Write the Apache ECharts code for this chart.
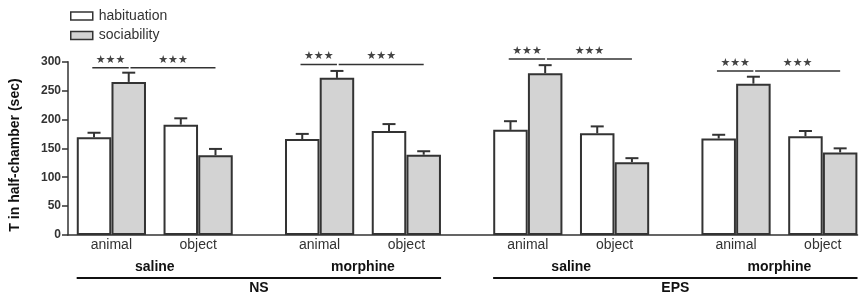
<!DOCTYPE html>
<html>
<head>
<meta charset="utf-8">
<script src="https://cdn.jsdelivr.net/npm/echarts@6/dist/echarts.min.js"></script>
<style>
  html, body { margin: 0; padding: 0; background: #fff; }
  #chart { width: 860px; height: 300px; }
</style>
</head>
<body>
<div id="chart"></div>
<script>
// values
var subjects = ['animal', 'object'];
var treatments = ['saline', 'morphine', 'saline', 'morphine'];
var conditions = ['NS', 'EPS'];
var habituation = [169, 191, 166, 180, 182, 176, 167, 171];
var habituationErr = [8, 11, 9, 12, 15, 12, 6.5, 9];
var sociability = [265, 138, 272, 139, 280, 126, 262, 143];
var sociabilityErr = [16, 11, 12, 6, 14, 7, 12, 7];
var sigLevels = [289.5, 295, 304.5, 284];
var sigMark = '★★★';
var yTitle = 'T in half-chamber (sec)';

var INK = '#333';
var FONT = 'Liberation Sans';

// position of each animal/object pair on the x scale
function xPos(i) {
    return 2.5 + Math.floor(i / 2) * 12 + (i % 2) * 5;
}

var centers = [];
for (var i = 0; i < habituation.length; i++) centers.push(xPos(i));
var groupCenters = [];
for (var g = 0; g < treatments.length; g++) groupCenters.push((xPos(2 * g) + xPos(2 * g + 1)) / 2);
var condCenters = [];
for (var c = 0; c < conditions.length; c++) condCenters.push((xPos(4 * c) - 2 + xPos(4 * c + 3) + 2) / 2);

function labelAt(list, vals) {
    return function(v) {
        for (var k = 0; k < vals.length; k++) {
            if (Math.abs(vals[k] - v) < 0.01) return list[k];
        }
        return '';
    };
}

var habData = [], socData = [], errData = [];
for (var i = 0; i < habituation.length; i++) {
    habData.push([centers[i] - 1, habituation[i]]);
    socData.push([centers[i] + 1, sociability[i]]);
    errData.push([centers[i] - 1, habituation[i], habituationErr[i]]);
    errData.push([centers[i] + 1, sociability[i], sociabilityErr[i]]);
}

var sigData = sigLevels.map(function(v, g) { return [g, v]; });
var condData = conditions.map(function(v, c) { return [c]; });

var chart = echarts.init(document.getElementById('chart'));

var hiddenAxis = {
    type: 'value', min: 0, max: 45.5, gridIndex: 0, position: 'bottom',
    splitLine: { show: false }, axisLine: { show: false }, axisTick: { show: false }
};

chart.setOption({
    animation: false,
    textStyle: { fontFamily: FONT },
    grid: { left: 68, right: 2.5, top: 61.7, bottom: 65 },
    legend: {
        data: ['habituation', 'sociability'],
        orient: 'vertical',
        left: 70, top: 9, padding: 0,
        icon: 'rect',
        itemWidth: 22, itemHeight: 8, itemGap: 5.5,
        itemStyle: { borderColor: INK, borderWidth: 1.5 },
        textStyle: { fontSize: 14, color: INK, fontFamily: FONT, padding: [0, 0, 0, 1] }
    },
    graphic: [{
        type: 'text', x: 15, y: 155, rotation: Math.PI / 2,
        style: {
            text: yTitle, fill: '#111', font: 'bold 14px ' + FONT,
            textAlign: 'center', textVerticalAlign: 'middle'
        }
    }],
    xAxis: [
        Object.assign({}, hiddenAxis, {
            axisLine: { show: true, onZero: false, lineStyle: { color: INK, width: 1.5 } },
            axisLabel: {
                customValues: centers, formatter: labelAt(subjects.concat(subjects, subjects, subjects), centers),
                fontSize: 14, color: INK, margin: 3, fontFamily: FONT
            }
        }),
        Object.assign({}, hiddenAxis, {
            offset: 22,
            axisLabel: {
                customValues: groupCenters, formatter: labelAt(treatments, groupCenters),
                fontSize: 14, fontWeight: 'bold', color: '#111', margin: 3, fontFamily: FONT
            }
        }),
        Object.assign({}, hiddenAxis, {
            offset: 43,
            axisLabel: {
                customValues: condCenters, formatter: labelAt(conditions, condCenters),
                fontSize: 14, fontWeight: 'bold', color: '#111', margin: 3, fontFamily: FONT
            }
        })
    ],
    yAxis: {
        type: 'value', min: 0, max: 300, interval: 50,
        splitLine: { show: false },
        axisLine: { show: true, lineStyle: { color: INK, width: 1.5 } },
        axisTick: { show: true, length: 6, lineStyle: { color: INK, width: 1.5 } },
        axisLabel: { fontSize: 12, fontWeight: 'bold', color: INK, margin: 7, fontFamily: FONT }
    },
    series: [
        {
            name: 'habituation', type: 'bar', data: habData,
            barWidth: 34.5, barGap: '-100%',
            itemStyle: { color: '#ffffff', borderColor: INK, borderWidth: 2 }
        },
        {
            name: 'sociability', type: 'bar', data: socData,
            barWidth: 34.5, barGap: '-100%',
            itemStyle: { color: '#d3d3d3', borderColor: INK, borderWidth: 2 }
        },
        {
            name: 'sem', type: 'custom', data: errData, z: 1,
            renderItem: function(params, api) {
                var x = api.value(0), y = api.value(1), e = api.value(2);
                var b = api.coord([x, y]);
                var t = api.coord([x, y + e]);
                var st = { stroke: INK, lineWidth: 2 };
                return {
                    type: 'group',
                    children: [
                        { type: 'line', shape: { x1: b[0], y1: b[1], x2: t[0], y2: t[1] }, style: st },
                        { type: 'line', shape: { x1: t[0] - 6.5, y1: t[1], x2: t[0] + 6.5, y2: t[1] }, style: st }
                    ]
                };
            }
        },
        {
            name: 'significance', type: 'custom', data: sigData, clip: false,
            renderItem: function(params, api) {
                var g = api.value(0), lv = api.value(1);
                var a = xPos(2 * g), o = xPos(2 * g + 1);
                var p1 = api.coord([a - 1.1, lv]);
                var p2 = api.coord([a + 1, lv]);
                var p3 = api.coord([a + 1.1, lv]);
                var p4 = api.coord([o + 1, lv]);
                var st = { stroke: INK, lineWidth: 1.5 };
                var ts = { fill: '#444', font: '11px DejaVu Sans', textAlign: 'center', textVerticalAlign: 'middle' };
                return {
                    type: 'group',
                    children: [
                        { type: 'line', shape: { x1: p1[0], y1: p1[1], x2: p2[0], y2: p2[1] }, style: st },
                        { type: 'line', shape: { x1: p3[0], y1: p3[1], x2: p4[0], y2: p4[1] }, style: st },
                        { type: 'text', x: (p1[0] + p2[0]) / 2, y: p1[1] - 8, style: Object.assign({ text: sigMark }, ts) },
                        { type: 'text', x: (p3[0] + p4[0]) / 2, y: p3[1] - 8, style: Object.assign({ text: sigMark }, ts) }
                    ]
                };
            }
        },
        {
            name: 'conditionLine', type: 'custom', data: condData, clip: false,
            renderItem: function(params, api) {
                var c = api.value(0);
                var l = api.coord([xPos(4 * c) - 2, 0]);
                var r = api.coord([xPos(4 * c + 3) + 2, 0]);
                return {
                    type: 'line',
                    shape: { x1: l[0], y1: l[1] + 43, x2: r[0], y2: r[1] + 43 },
                    style: { stroke: '#111', lineWidth: 2 }
                };
            }
        }
    ]
});
</script>
</body>
</html>
